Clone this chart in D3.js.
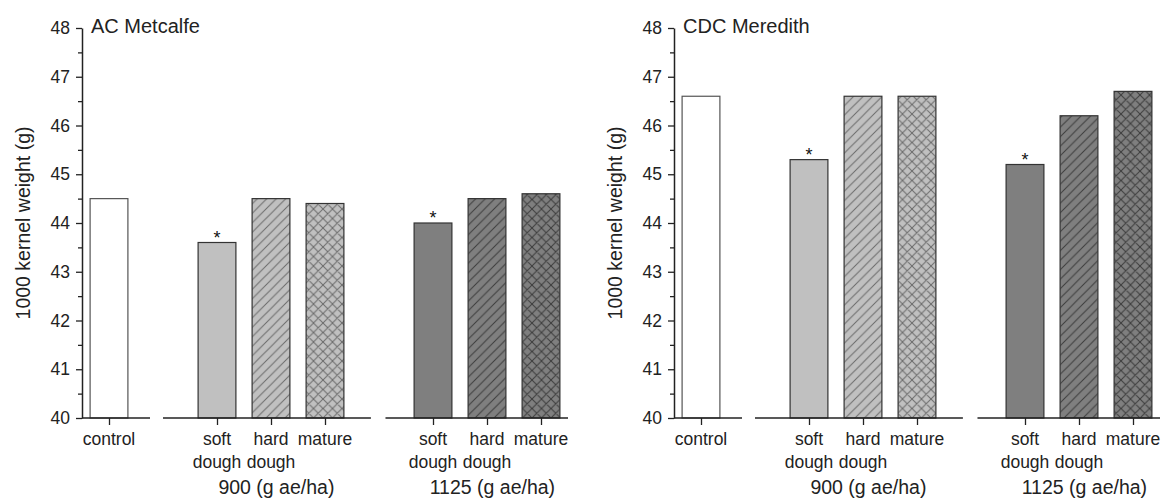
<!DOCTYPE html>
<html>
<head>
<meta charset="utf-8">
<script src="https://cdn.jsdelivr.net/npm/d3@7"></script>
<style>
  body { margin: 0; background: white; }
  svg { display: block; font-family: "Liberation Sans", Arial, sans-serif; }
</style>
</head>
<body>
<div id="chart"></div>
<script>
let w = 1166;
let h = 498;

// data
let categories = ["control", "soft dough", "hard dough", "mature", "soft dough", "hard dough", "mature"];
let slots = [0, 2, 3, 4, 6, 7, 8];
let doses = ["control", "900", "900", "900", "1125", "1125", "1125"];
let stages = ["control", "soft", "hard", "mature", "soft", "hard", "mature"];
let metcalfe = [44.5, 43.6, 44.5, 44.4, 44.0, 44.5, 44.6];
let meredith = [46.6, 45.3, 46.6, 46.6, 45.2, 46.2, 46.7];
let significant = [false, true, false, false, true, false, false];
let groupLabels = ["900 (g ae/ha)", "1125 (g ae/ha)"];
let groupAt = [3.1, 7.1];
let axisBreaks = [[0.76, 1.0], [4.85, 5.12]];
let yTicks = d3.range(40, 48.01, 0.5);

let doseFill = { control: "#ffffff", "900": "#c0c0c0", "1125": "#7f7f7f" };
let hatchColor = { "900": "#6a6a6a", "1125": "#3c3c3c" };

let svg = d3.select("#chart")
  .append("svg")
  .attr("width", w)
  .attr("height", h);

// hatch patterns
let defs = svg.append("defs");
["900", "1125"].forEach(dose => {
  ["hard", "mature"].forEach(stage => {
    let p = defs.append("pattern")
      .attr("id", "pat-" + dose + "-" + stage)
      .attr("patternUnits", "userSpaceOnUse")
      .attr("width", 9.5)
      .attr("height", 9.5);
    p.append("rect").attr("width", 9.5).attr("height", 9.5).attr("fill", doseFill[dose]);
    let d = "M0,9.5 L9.5,0 M-2,2 L2,-2 M7.5,11.5 L11.5,7.5";
    if (stage == "mature") {
      d += " M0,0 L9.5,9.5 M-2,7.5 L2,11.5 M7.5,-2 L11.5,2";
    }
    p.append("path")
      .attr("d", d)
      .attr("stroke", hatchColor[dose])
      .attr("stroke-width", 1)
      .attr("fill", "none");
  });
});

function fillFor(i) {
  if (stages[i] == "hard" || stages[i] == "mature") {
    return "url(#pat-" + doses[i] + "-" + stages[i] + ")";
  }
  return doseFill[doses[i]];
}

function drawPanel(x0, title, values) {
  let x = d3.scaleLinear().domain([-0.5, 8.5]).range([x0, x0 + 486]);
  let y = d3.scaleLinear().domain([40, 48]).range([418, 28]);
  let barW = (x(0.7) - x(0));

  let g = svg.append("g").attr("class", "panel");

  // bars
  g.selectAll(".bar")
    .data(values)
    .enter()
    .append("rect")
    .attr("class", "bar")
    .attr("x", (d, i) => x(slots[i]) - barW / 2)
    .attr("y", d => y(d))
    .attr("width", barW)
    .attr("height", d => y(40) - y(d))
    .attr("fill", (d, i) => fillFor(i))
    .attr("stroke", (d, i) => i == 0 ? "#555" : "#333")
    .attr("stroke-width", 1.2);

  // significance stars
  g.selectAll(".star")
    .data(values)
    .enter()
    .filter((d, i) => significant[i])
    .append("text")
    .attr("class", "star")
    .attr("x", (d, i) => x(slots[values.indexOf(d)]))
    .attr("y", d => y(d) + 1)
    .attr("text-anchor", "middle")
    .attr("font-size", 18)
    .attr("fill", "#111")
    .text("*");

  // y axis
  let yAxis = d3.axisLeft(y)
    .tickValues(yTicks)
    .tickSize(6)
    .tickSizeOuter(0)
    .tickPadding(6)
    .tickFormat(d => d % 1 === 0 ? d : "");
  let yg = g.append("g")
    .attr("transform", "translate(" + x0 + ",0)")
    .call(yAxis);
  yg.select(".domain").attr("stroke", "#222").attr("stroke-width", 1.5);
  yg.selectAll(".tick line")
    .attr("stroke", "#222")
    .attr("stroke-width", 1.3)
    .attr("x2", d => d % 1 === 0 ? -6 : -4);
  yg.selectAll(".tick text")
    .attr("font-size", 17.5)
    .attr("fill", "#222")
    .attr("font-family", "Liberation Sans, Arial, sans-serif");

  // x axis line with breaks
  let segs = [];
  let start = -0.5;
  axisBreaks.forEach(b => {
    segs.push([start, b[0]]);
    start = b[1];
  });
  segs.push([start, 8.5]);
  g.selectAll(".xline")
    .data(segs)
    .enter()
    .append("line")
    .attr("x1", d => x(d[0]))
    .attr("x2", d => x(d[1]))
    .attr("y1", y(40))
    .attr("y2", y(40))
    .attr("stroke", "#222")
    .attr("stroke-width", 1.5);

  let xAxis = d3.axisBottom(x)
    .tickValues(slots)
    .tickSize(7)
    .tickSizeOuter(0)
    .tickFormat("");
  let xg = g.append("g")
    .attr("transform", "translate(0," + y(40) + ")")
    .call(xAxis);
  xg.select(".domain").remove();
  xg.selectAll(".tick line").attr("stroke", "#222").attr("stroke-width", 1.3);

  // category labels
  let labels = g.selectAll(".cat")
    .data(categories)
    .enter()
    .append("text")
    .attr("class", "cat")
    .attr("text-anchor", "middle")
    .attr("font-size", 17.5)
    .attr("fill", "#222")
    .attr("transform", (d, i) => "translate(" + x(slots[i]) + ",445)");
  labels.each(function (d) {
    let words = d.split(" ");
    let t = d3.select(this);
    words.forEach((wd, k) => {
      t.append("tspan").attr("x", 0).attr("y", k * 23).text(wd);
    });
  });

  // dose labels
  g.selectAll(".dose")
    .data(groupLabels)
    .enter()
    .append("text")
    .attr("class", "dose")
    .attr("x", (d, i) => x(groupAt[i]))
    .attr("y", 494)
    .attr("text-anchor", "middle")
    .attr("font-size", 19.5)
    .attr("fill", "#222")
    .text(d => d);

  // title
  g.append("text")
    .attr("x", x0 + 9)
    .attr("y", 33)
    .attr("font-size", 20)
    .attr("fill", "#222")
    .text(title);

  // y label
  g.append("text")
    .attr("transform", "translate(" + (x0 - 52) + "," + ((y(40) + y(48)) / 2) + ") rotate(-90)")
    .attr("text-anchor", "middle")
    .attr("font-size", 19.5)
    .attr("fill", "#222")
    .text("1000 kernel weight (g)");
}

drawPanel(82, "AC Metcalfe", metcalfe);
drawPanel(674, "CDC Meredith", meredith);
</script>
</body>
</html>
